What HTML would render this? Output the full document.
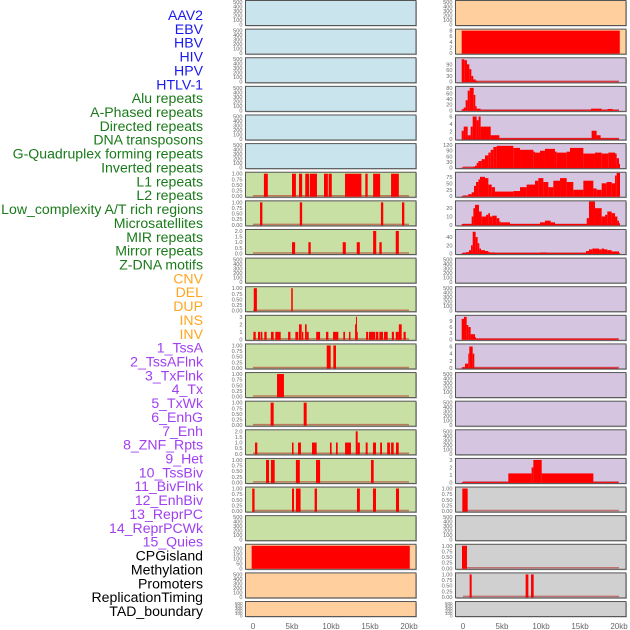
<!DOCTYPE html>
<html><head><meta charset="utf-8">
<style>
html,body{margin:0;padding:0;background:#fff;}
#wrap{position:relative;width:630px;height:630px;overflow:hidden;}
svg text{font-family:"Liberation Sans",sans-serif;}
</style></head>
<body>
<div id="wrap">
<svg id="chart" width="630" height="630" viewBox="0 0 630 630"></svg>
</div>
<script>
const NS='http://www.w3.org/2000/svg';
const svg=document.getElementById('chart');

// ---- data ----
const trackLabels=["AAV2","EBV","HBV","HIV","HPV","HTLV-1","Alu repeats","A-Phased repeats","Directed repeats","DNA transposons","G-Quadruplex forming repeats","Inverted repeats","L1 repeats","L2 repeats","Low_complexity A/T rich regions","Microsatellites","MIR repeats","Mirror repeats","Z-DNA motifs","CNV","DEL","DUP","INS","INV","1_TssA","2_TssAFlnk","3_TxFlnk","4_Tx","5_TxWk","6_EnhG","7_Enh","8_ZNF_Rpts","9_Het","10_TssBiv","11_BivFlnk","12_EnhBiv","13_ReprPC","14_ReprPCWk","15_Quies","CPGisland","Methylation","Promoters","ReplicationTiming","TAD_boundary"];
const labelColors=["#1a1aee","#1a1aee","#1a1aee","#1a1aee","#1a1aee","#1a1aee","#1a7a1a","#1a7a1a","#1a7a1a","#1a7a1a","#1a7a1a","#1a7a1a","#1a7a1a","#1a7a1a","#1a7a1a","#1a7a1a","#1a7a1a","#1a7a1a","#1a7a1a","#ffa520","#ffa520","#ffa520","#ffa520","#ffa520","#a040f0","#a040f0","#a040f0","#a040f0","#a040f0","#a040f0","#a040f0","#a040f0","#a040f0","#a040f0","#a040f0","#a040f0","#a040f0","#a040f0","#a040f0","#000","#000","#000","#000","#000"];
const xTicks=[0,5,10,15,20];
const xTickLabels=["0","5kb","10kb","15kb","20kb"];

const T500=[0,100,200,300,400,500];
const T01=[0,0.25,0.5,0.75,1];
const leftBg=["#c9e4ec","#c9e4ec","#c9e4ec","#c9e4ec","#c9e4ec","#c9e4ec","#c8e0a4","#c8e0a4","#c8e0a4","#c8e0a4","#c8e0a4","#c8e0a4","#c8e0a4","#c8e0a4","#c8e0a4","#c8e0a4","#c8e0a4","#c8e0a4","#c8e0a4","#ffcf9e","#ffcf9e","#ffcf9e"];
const leftMax=[500,500,500,500,500,500,1,1,2,500,1,3,1,1,1,2,1,1,500,230,500,500];
const leftTicks=[T500,T500,T500,T500,T500,T500,T01,T01,[0,0.5,1,1.5,2],T500,T01,[0,1,2,3],T01,T01,T01,[0,0.5,1,1.5,2],T01,T01,T500,[0,50,100,150,200],T500,T500];
const leftSeg=[[],[],[],[],[],[],
[[1.4,1.9,1],[5.0,5.5,1],[5.9,6.3,1],[6.7,7.2,1],[7.3,8.2,1],[9.1,9.6,1],[9.7,10.1,1],[11.8,13.9,1],[14.4,14.7,1],[15.4,16.3,1],[17.7,18.7,1]],
[[0.9,1.2,1],[6.0,6.3,1],[16.4,16.7,1],[19.1,19.4,1]],
[[5.0,5.4,1],[7.1,7.4,1],[11.5,11.9,1],[13.3,13.7,1],[15.4,15.8,2],[16.2,16.5,1],[18.3,18.7,2]],
[],
[[0.1,0.5,1],[4.9,5.1,1]],
[[0.05,0.35,1],[0.64,0.9,1],[0.98,1.2,1],[1.45,1.75,1],[2.3,2.65,1],[2.86,3.55,1],[4.5,4.8,1],[5.43,5.8,1],[5.9,6.24,2],[6.28,6.45,1],[6.67,6.88,2],[6.88,7.14,1],[8.1,8.6,1],[9.36,9.66,1],[10.26,10.94,1],[11.58,11.8,1],[12.3,12.5,1],[13.08,13.2,2],[13.2,13.33,3],[13.33,13.42,1],[14.5,14.75,1],[14.87,15.68,1],[15.77,16.07,1],[16.2,16.67,1],[16.8,17.27,1],[17.8,18.07,1],[18.3,18.7,1],[18.7,19.06,2],[19.3,19.58,1]],
[[9.45,9.96,1],[10.3,10.64,1]],
[[3.08,3.97,1]],
[[2.26,2.65,1],[6.5,6.88,1]],
[[0.26,0.55,1],[5.0,5.2,1],[5.77,6.15,1],[7.56,8.16,1],[9.87,10.08,1],[10.64,10.86,1],[11.8,12.56,1],[13.17,13.42,2],[13.42,13.7,1],[14.45,14.7,1],[15.38,15.77,1],[16.3,16.54,1],[17.2,17.56,1],[17.7,18.04,1],[18.33,18.68,1]],
[[1.67,2.05,1],[2.3,2.78,1],[5.5,6.0,1],[8.08,8.6,1],[15.13,15.47,1]],
[[-0.1,0.2,1],[5.0,5.26,1],[5.5,6.1,1],[7.9,8.2,1],[13.33,13.7,1],[15.38,15.77,1],[18.33,18.72,1]],
[],
[[-0.17,20.1,230]],
[],[]];

const rightBg=["#ffcf9e","#ffcf9e","#d6c5e0","#d6c5e0","#d6c5e0","#d6c5e0","#d6c5e0","#d6c5e0","#d6c5e0","#d6c5e0","#d6c5e0","#d6c5e0","#d6c5e0","#d6c5e0","#d6c5e0","#d6c5e0","#d6c5e0","#d0d0d0","#d0d0d0","#d0d0d0","#d0d0d0","#d0d0d0"];
const rightMax=[500,8,116,80,6,120,87,27,55,500,500,11,6.3,500,500,500,3,1,500,1,1,500];
const rightTicks=[T500,[0,2,4,6,8],[0,30,60,90],[0,20,40,60,80],[0,2,4,6],[0,30,60,90,120],[0,25,50,75],[0,10,20],[0,20,40],T500,T500,[0,3,6,9],[0,2,4,6],T500,T500,T500,[0,1,2,3],T01,T500,T01,T01,T500];
const rightSeg=[[],
[[-0.17,20.1,8]],
[[-0.17,0.17,116],[0.17,0.51,111],[0.51,0.81,90],[0.81,1.07,65],[1.07,1.32,30],[1.32,1.62,12],[1.62,1.88,5],[1.88,20.0,1]],
[[-0.17,0.09,4],[0.09,0.34,10],[0.34,0.6,36],[0.6,0.86,70],[0.86,1.37,80],[1.37,1.58,55],[1.58,1.75,15],[1.75,2.26,6],[2.26,16.4,1],[16.4,17.77,6],[17.77,18.54,1],[18.54,19.18,5],[19.18,20.0,1]],
[[-0.17,0.09,2.2],[0.09,0.34,3.3],[0.34,0.6,3.3],[0.6,0.98,1],[0.98,1.24,3.3],[1.24,1.75,6],[1.75,2.0,5],[2.0,2.26,6],[2.26,3.55,3.3],[3.55,4.66,1],[4.66,16.49,0.2],[16.49,17.13,2.2],[17.13,17.64,1],[17.64,20.0,0.2]],
[[-0.17,1.32,1],[1.32,1.54,4],[1.54,1.75,10],[1.75,1.97,25],[1.97,2.39,35],[2.39,2.82,45],[2.82,3.25,65],[3.25,3.55,80],[3.55,3.89,95],[3.89,4.32,110],[4.32,6.45,116],[6.45,7.31,105],[7.31,9.02,95],[9.02,9.23,85],[9.23,9.87,80],[9.87,10.51,90],[10.51,11.79,100],[11.79,12.01,85],[12.01,13.29,80],[13.29,13.72,85],[13.72,15.43,105],[15.43,16.92,75],[16.92,17.78,80],[17.78,18.63,75],[18.63,19.49,80],[19.49,19.7,75],[19.7,20.0,50],[20.0,20.13,20]],
[[-0.17,0.68,1],[0.68,1.11,8],[1.11,1.41,15],[1.41,1.67,40],[1.67,1.97,55],[1.97,2.18,65],[2.18,2.82,75],[2.82,3.25,70],[3.25,3.68,45],[3.68,4.1,35],[4.1,6.45,18],[6.45,7.31,20],[7.31,8.16,35],[8.16,9.23,45],[9.23,9.66,60],[9.66,10.3,70],[10.3,10.94,55],[10.94,11.58,35],[11.58,12.44,60],[12.44,13.29,70],[13.29,14.14,55],[14.14,15.43,25],[15.43,16.71,60],[16.71,17.14,30],[17.14,17.78,25],[17.78,18.42,50],[18.42,19.06,55],[19.06,19.49,50],[19.49,19.7,80],[19.7,20.13,90]],
[[-0.17,1.11,1],[1.11,1.33,10],[1.33,1.54,20],[1.54,2.05,24],[2.05,2.39,16],[2.39,2.95,10],[2.95,3.25,12],[3.25,3.46,14],[3.46,3.76,10],[3.76,4.32,11],[4.32,4.66,8],[4.66,4.83,4],[4.83,6.03,3],[6.03,9.87,1],[9.87,10.51,3],[10.51,11.24,5],[11.24,11.8,3],[11.8,15.86,1],[15.86,16.15,8],[16.15,16.92,28],[16.92,17.78,20],[17.78,18.21,10],[18.21,18.5,12],[18.5,19.06,16],[19.06,19.49,14],[19.49,19.79,10],[19.79,20.0,5],[20.0,20.13,2]],
[[-0.17,0.39,1],[0.39,0.77,3],[0.77,1.03,8],[1.03,1.24,20],[1.24,1.62,53],[1.62,1.88,40],[1.88,2.09,25],[2.09,2.31,12],[2.31,2.82,8],[2.82,3.25,6],[3.25,3.46,3],[3.46,4.1,2],[4.1,9.87,1],[9.87,10.73,2],[10.73,15.77,1],[15.77,16.15,6],[16.15,16.58,10],[16.58,17.44,12],[17.44,17.78,10],[17.78,18.08,12],[18.08,18.5,10],[18.5,19.06,8],[19.06,20.0,5],[20.0,20.13,1]],
[],[],
[[-0.17,0.13,10],[0.13,0.47,11],[0.47,0.68,7],[0.68,0.98,6],[0.98,1.54,2.5],[1.54,1.67,1],[1.67,19.91,0.3]],
[[-0.17,0.26,0.2],[0.26,0.68,1.2],[0.68,0.81,4],[0.81,1.24,6],[1.24,1.45,4],[1.45,19.91,0.1]],
[],[],[],
[[-0.17,5.81,0.05],[5.81,8.8,1.2],[8.8,9.02,2],[9.02,10.09,3],[10.09,16.71,1.2],[16.71,19.91,0.05]],
[[-0.09,0.6,1]],
[],
[[-0.13,0.51,1]],
[[0.85,1.11,1],[8.03,8.38,1],[8.72,9.06,1]],
[]];

function el(tag,attrs,parent){const e=document.createElementNS(NS,tag);for(const k in attrs)e.setAttribute(k,attrs[k]);(parent||svg).appendChild(e);return e;}
const PITCH=28.62, PH=25;
function panelTop(i){return 0.5+i*PITCH;}
function panelH(i){return i===21?15:PH;}
function xScale(col,kb){return (col===0?253:463)+kb*7.8;}
function yScale(i,v,ymax){const top=panelTop(i),h=panelH(i);return top+h-1-(v/ymax)*(h-2.5);}
function fmt(t,ticks){const mx=ticks[ticks.length-1];if(mx===1)return t.toFixed(2);if(mx===2&&ticks.includes(1.5))return t.toFixed(1);return String(t);}

for(let k=0;k<trackLabels.length;k++){
  const t=el('text',{x:203,y:15+k*13.86+5,'text-anchor':'end','font-size':'14.1',fill:labelColors[k]});
  t.textContent=trackLabels[k];
  
  
}

function drawCol(col,bgs,maxs,ticks,segs){
  const x0=col===0?245.5:455.5, w=170.5;
  for(let i=0;i<22;i++){
    const g=el('g',{});
    
    
    const top=panelTop(i),h=panelH(i);
    el('rect',{x:x0+1,y:top+1,width:w,height:h,fill:'#bbb'},g);
    el('rect',{x:x0,y:top,width:w,height:h,fill:bgs[i],stroke:'#555','stroke-width':1},g);
    const ymax=maxs[i];
    const tk=ticks[i];
    const fs=i===21?4.5:5.6;
    for(const t of tk){
      const tt=el('text',{x:x0-3,y:yScale(i,Math.min(t,ymax),ymax)+2,'text-anchor':'end','font-size':fs,fill:'#666'},g);
      tt.textContent=fmt(t,tk);
      
      
    }
    const s=segs[i];
    if(s.length){
      const base=yScale(i,0,ymax);
      const bl=el('line',{x1:xScale(col,0),x2:xScale(col,20),y1:base-0.5,y2:base-0.5,stroke:'rgba(170,0,0,0.45)','stroke-width':1.5},g);
      
      
      for(const [a,b,v] of s){
        const xa=xScale(col,a),xb=xScale(col,b);
        const yv=Math.max(top+0.5,yScale(i,v,ymax));
        const r=el('rect',{x:xa,y:yv,width:Math.max(0.8,xb-xa),height:Math.max(0.6,top+h-yv-0.5),fill:'#ff0000'},g);
        
        
      }
    }
  }
  for(let j=0;j<xTicks.length;j++){
    const t=el('text',{x:xScale(col,xTicks[j]),y:629,'text-anchor':'middle','font-size':'8',fill:'#666'});
    t.textContent=xTickLabels[j];
    
    
  }
}
drawCol(0,leftBg,leftMax,leftTicks,leftSeg);
drawCol(1,rightBg,rightMax,rightTicks,rightSeg);
</script>
</body></html>
